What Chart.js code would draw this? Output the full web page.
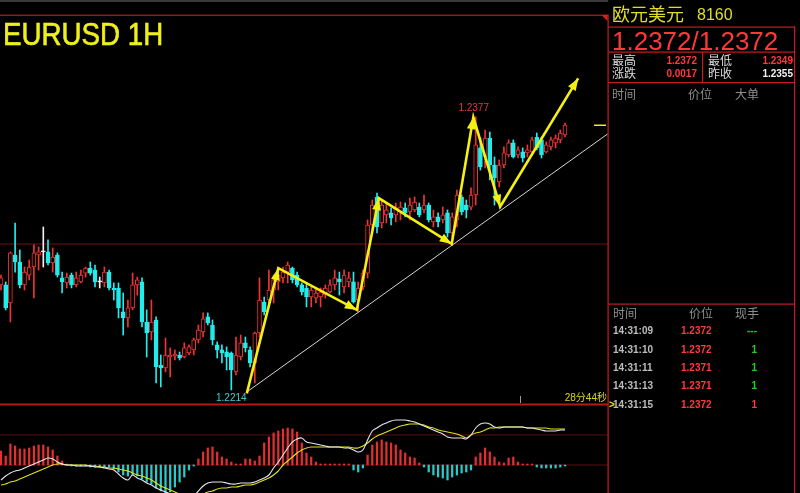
<!DOCTYPE html>
<html><head><meta charset="utf-8">
<script src="https://cdn.jsdelivr.net/npm/chart.js@4/dist/chart.umd.min.js"></script>
<style>
html,body{margin:0;padding:0;background:#000;overflow:hidden}
#wrap{position:relative;width:800px;height:493px;background:#000;overflow:hidden}
canvas{position:absolute;left:0;top:0}
.t{position:absolute;white-space:nowrap}
</style></head>
<body><div id="wrap"><canvas id="c" width="800" height="493"></canvas></div>
<script>
// ---------------- DATA ----------------
const open = [1.22767,1.22767,1.22659,1.22946,1.22904,1.22767,1.22826,1.22874,1.22946,1.22964,
1.22964,1.22898,1.22946,1.22809,1.22779,1.22826,1.22767,1.22785,1.22838,1.22868,
1.22856,1.22785,1.22779,1.22844,1.22749,1.22749,1.22606,1.22570,1.22630,1.22767,
1.22785,1.22546,1.22486,1.22558,1.22289,1.22271,1.22337,1.22343,1.22349,1.22337,
1.22361,1.22379,1.22439,1.22486,1.22576,1.22528,1.22409,1.22379,1.22367,1.22361,
1.22248,1.22337,1.22421,1.22379,1.22301,1.22480,1.22665,1.22677,1.22737,1.22785,
1.22809,1.22844,1.22868,1.22826,1.22767,1.22749,1.22695,1.22689,1.22695,1.22707,
1.22725,1.22767,1.22803,1.22755,1.22785,1.22785,1.22677,1.22755,1.22838,1.23125,
1.23292,1.23137,1.23185,1.23197,1.23185,1.23203,1.23227,1.23203,1.23215,1.23232,
1.23215,1.23244,1.23143,1.23173,1.23155,1.23197,1.23077,1.23155,1.23292,1.23244,
1.23232,1.23304,1.23585,1.23531,1.23644,1.23483,1.23382,1.23483,1.23543,1.23615,
1.23543,1.23561,1.23555,1.23561,1.23650,1.23633,1.23561,1.23591,1.23615,1.23633,
1.23662];
const high = [1.22826,1.22785,1.22964,1.23137,1.22976,1.22874,1.22916,1.23006,1.22994,1.23113,
1.23036,1.22988,1.22958,1.22844,1.22838,1.22838,1.22844,1.22856,1.22874,1.22904,
1.22886,1.22814,1.22874,1.22856,1.22779,1.22779,1.22719,1.22677,1.22838,1.22814,
1.22809,1.22618,1.22677,1.22576,1.22349,1.22450,1.22391,1.22379,1.22367,1.22421,
1.22409,1.22450,1.22528,1.22600,1.22600,1.22558,1.22427,1.22409,1.22397,1.22367,
1.22456,1.22468,1.22456,1.22397,1.22486,1.22809,1.22695,1.22856,1.22826,1.22868,
1.22874,1.22904,1.22874,1.22844,1.22779,1.22779,1.22755,1.22749,1.22749,1.22767,
1.22797,1.22856,1.22844,1.22856,1.22844,1.22844,1.22785,1.22856,1.23155,1.23274,
1.23316,1.23274,1.23256,1.23227,1.23256,1.23262,1.23256,1.23286,1.23292,1.23256,
1.23304,1.23256,1.23215,1.23197,1.23232,1.23215,1.23197,1.23334,1.23304,1.23274,
1.23346,1.23770,1.23644,1.23692,1.23680,1.23531,1.23513,1.23591,1.23633,1.23633,
1.23591,1.23585,1.23603,1.23650,1.23674,1.23650,1.23621,1.23650,1.23662,1.23692,
1.23734];
const low = [1.22737,1.22618,1.22546,1.22844,1.22749,1.22737,1.22797,1.22689,1.22856,1.22874,
1.22886,1.22844,1.22814,1.22719,1.22749,1.22749,1.22755,1.22779,1.22814,1.22826,
1.22755,1.22749,1.22755,1.22737,1.22677,1.22570,1.22468,1.22516,1.22618,1.22707,
1.22516,1.22337,1.22439,1.22182,1.22158,1.22248,1.22218,1.22319,1.22319,1.22331,
1.22349,1.22349,1.22421,1.22456,1.22528,1.22409,1.22331,1.22301,1.22259,1.22140,
1.22230,1.22319,1.22367,1.22277,1.22182,1.22456,1.22588,1.22659,1.22659,1.22737,
1.22779,1.22779,1.22779,1.22755,1.22707,1.22636,1.22636,1.22659,1.22636,1.22689,
1.22719,1.22737,1.22707,1.22719,1.22755,1.22659,1.22606,1.22737,1.22809,1.23095,
1.23077,1.23107,1.23137,1.23125,1.23143,1.23155,1.23173,1.23155,1.23203,1.23173,
1.23197,1.23143,1.23113,1.23113,1.23137,1.23053,1.23018,1.23113,1.23185,1.23167,
1.23215,1.23244,1.23453,1.23465,1.23394,1.23244,1.23352,1.23465,1.23531,1.23525,
1.23525,1.23501,1.23531,1.23543,1.23573,1.23525,1.23555,1.23573,1.23585,1.23615,
1.23650];
const close = [1.22809,1.22630,1.22958,1.22904,1.22767,1.22844,1.22874,1.22958,1.22964,1.22964,
1.22898,1.22934,1.22826,1.22785,1.22814,1.22767,1.22809,1.22826,1.22868,1.22838,
1.22785,1.22785,1.22844,1.22749,1.22737,1.22630,1.22570,1.22630,1.22767,1.22797,
1.22546,1.22480,1.22546,1.22277,1.22271,1.22349,1.22349,1.22355,1.22331,1.22391,
1.22397,1.22439,1.22498,1.22564,1.22540,1.22439,1.22379,1.22361,1.22337,1.22259,
1.22349,1.22421,1.22391,1.22301,1.22480,1.22677,1.22606,1.22737,1.22797,1.22826,
1.22844,1.22886,1.22797,1.22767,1.22725,1.22695,1.22737,1.22719,1.22725,1.22749,
1.22767,1.22809,1.22785,1.22826,1.22809,1.22665,1.22749,1.22838,1.23125,1.23244,
1.23113,1.23244,1.23215,1.23167,1.23227,1.23232,1.23197,1.23244,1.23262,1.23185,
1.23244,1.23155,1.23173,1.23143,1.23185,1.23077,1.23173,1.23304,1.23203,1.23215,
1.23304,1.23603,1.23471,1.23644,1.23483,1.23406,1.23483,1.23555,1.23615,1.23531,
1.23573,1.23525,1.23573,1.23633,1.23585,1.23543,1.23603,1.23633,1.23644,1.23674,
1.23722];

// MACD (DIF, DEA, histogram)
const dif = [-0.00015,-0.00011,-0.00008,-0.00006,-0.00005,-0.00003,-0.00001,0.00001,0.00003,0.00005,
0.00007,0.00006,0.00003,0.00001,0,0,-0.00001,-0.00001,-0.00001,-0.00001,
-0.00002,-0.00002,-0.00003,-0.00004,-0.00005,-0.00009,-0.00013,-0.00015,-0.00010,-0.00013,
-0.00015,-0.00018,-0.00020,-0.00023,-0.00025,-0.00027,-0.00029,-0.00032,-0.00034,-0.00035,
-0.00034,-0.00031,-0.00026,-0.00021,-0.00018,-0.00017,-0.00017,-0.00017,-0.00018,-0.00019,
-0.00019,-0.00018,-0.00018,-0.00018,-0.00017,-0.00015,-0.00013,-0.00010,-0.00003,0.00003,
0.00010,0.00017,0.00023,0.00026,0.00027,0.00023,0.00022,0.00021,0.00020,0.00019,
0.00018,0.00018,0.00018,0.00017,0.00017,0.00015,0.00013,0.00015,0.00025,0.00034,
0.00037,0.00040,0.00042,0.00044,0.00045,0.00045,0.00045,0.00044,0.00043,0.00041,
0.00039,0.00037,0.00035,0.00033,0.00031,0.00028,0.00027,0.00027,0.00027,0.00026,
0.00030,0.00037,0.00041,0.00042,0.00041,0.00038,0.00037,0.00038,0.00038,0.00038,
0.00038,0.00038,0.00037,0.00037,0.00036,0.00035,0.00034,0.00034,0.00034,0.00035,
0.00035];
const dea = [-0.00020,-0.00019,-0.00017,-0.00016,-0.00014,-0.00012,-0.00010,-0.00008,-0.00006,-0.00004,
-0.00002,0,0.00001,0.00001,0,0,0,0,0,-0.00001,
-0.00001,-0.00002,-0.00002,-0.00003,-0.00003,-0.00004,-0.00005,-0.00006,-0.00008,-0.00010,
-0.00011,-0.00013,-0.00015,-0.00018,-0.00021,-0.00023,-0.00025,-0.00027,-0.00029,-0.00030,
-0.00031,-0.00031,-0.00030,-0.00029,-0.00027,-0.00026,-0.00024,-0.00023,-0.00023,-0.00022,
-0.00022,-0.00021,-0.00020,-0.00020,-0.00019,-0.00017,-0.00015,-0.00013,-0.00010,-0.00006,
0,0.00004,0.00008,0.00012,0.00015,0.00017,0.00018,0.00018,0.00018,0.00018,
0.00018,0.00018,0.00018,0.00018,0.00018,0.00017,0.00017,0.00019,0.00022,0.00026,
0.00029,0.00031,0.00033,0.00035,0.00037,0.00039,0.00040,0.00041,0.00041,0.00041,
0.00040,0.00038,0.00037,0.00035,0.00034,0.00033,0.00032,0.00031,0.00029,0.00027,
0.00030,0.00032,0.00033,0.00035,0.00037,0.00037,0.00038,0.00038,0.00038,0.00038,
0.00038,0.00038,0.00037,0.00037,0.00037,0.00037,0.00037,0.00036,0.00036,0.00036,
0.00036];
const macdHist = [0.00014,0.00009,0.00021,0.00019,0.00016,0.00016,0.00017,0.00019,0.00020,0.00020,
0.00018,0.00015,0.00009,0.00004,0.00001,-0.00001,-0.00001,-0.00001,-0.00001,-0.00002,
-0.00002,-0.00002,-0.00002,-0.00002,-0.00004,-0.00007,-0.00010,-0.00011,-0.00010,-0.00011,
-0.00014,-0.00017,-0.00019,-0.00023,-0.00026,-0.00028,-0.00027,-0.00022,-0.00017,-0.00012,
-0.00005,-0.00001,0.00006,0.00013,0.00017,0.00018,0.00013,0.00008,0.00006,0.00003,
0.00001,0.00001,0.00006,0.00006,0.00004,0.00009,0.00022,0.00028,0.00032,0.00034,
0.00036,0.00037,0.00036,0.00033,0.00022,0.00012,0.00008,0.00003,0.00001,0.00001,
0.00001,0.00001,0.00001,0.00001,0.00001,-0.00005,-0.00007,-0.00003,0.00010,0.00020,
0.00023,0.00025,0.00023,0.00022,0.00020,0.00015,0.00012,0.00008,0.00007,0.00002,
-0.00002,-0.00007,-0.00010,-0.00012,-0.00013,-0.00015,-0.00012,-0.00010,-0.00008,-0.00007,
-0.00005,0.00008,0.00012,0.00017,0.00013,0.00008,0.00003,0.00002,0.00007,0.00008,
0.00003,0.00001,0.00001,0.00001,-0.00002,-0.00003,-0.00003,-0.00003,-0.00003,-0.00002,
-0.00001];

// Hand-drawn analysis: arrow path (bar index, price) and support trend line
const arrowIdx   = [52.3, 59.0, 75.7, 80.4, 95.9, 100.5, 106.2, 122.8];
const arrowPrice = [1.2212, 1.22867, 1.22618, 1.23285, 1.23012, 1.23768, 1.23234, 1.2400];
const trendIdx   = [52.3, 129.1];
const trendPrice = [1.22128, 1.23669];
const levelPrice = 1.2301;
const sessionMarkIdx = 110.4;

// Side panel quote data
const symbolName = '欧元美元';
const symbolCode = '8160';
const bidAsk = '1.2372/1.2372';
const statLabels = [['最高','最低'],['涨跌','昨收']];
const statValues = [['1.2372','1.2349'],['0.0017','1.2355']];
const tickTimes  = ['14:31:09','14:31:10','14:31:11','14:31:13','14:31:15'];
const tickPrices = ['1.2372','1.2372','1.2371','1.2371','1.2372'];
const tickVols   = ['---','1','1','1','1'];
const tickDir    = ['buy','buy','buy','buy','sell'];
const countdown  = '28分44秒';

// ---------------- STYLE ----------------
const UP = '#f03434', DOWN = '#22ecec', DOJI = '#f0f0f0';
const candleIndex = open.map((_, i) => i);
const candleColor = candleIndex.map(i => close[i] > open[i] ? UP : (close[i] < open[i] ? DOWN : DOJI));
const bodyFill = candleIndex.map(i => close[i] > open[i] ? '#000000' : candleColor[i]);

const wrap = document.getElementById('wrap');
function addText(txt, o) {
  const d = document.createElement('div');
  d.className = 't';
  d.textContent = txt;
  d.style.font = o.font;
  const h = o.h || 20;
  d.style.top = (o.cy - h / 2) + 'px';
  d.style.height = h + 'px';
  d.style.lineHeight = h + 'px';
  if (o.left != null) d.style.left = o.left + 'px';
  if (o.right != null) { d.style.right = (800 - o.right) + 'px'; d.style.textAlign = 'right'; }
  d.style.color = o.color;
  if (o.extra) Object.assign(d.style, o.extra);
  wrap.appendChild(d);
  return d;
}
const LAT = '"Liberation Sans", Arial, sans-serif';
const CJK = '"Liberation Sans", "Noto Sans CJK SC", sans-serif';

addText('EURUSD 1H', {left: 3, cy: 34.3, h: 31, font: '31px ' + LAT, color: '#eef01c',
  extra: {transform: 'scaleX(0.894)', transformOrigin: '0 0', webkitTextStroke: '0.6px #eef01c'}});
addText(symbolName, {left: 612, cy: 15, font: '18px ' + CJK, color: '#dede2a'});
addText(symbolCode, {left: 697, cy: 15, font: '16px ' + LAT, color: '#dede2a'});
addText(bidAsk, {left: 612, cy: 40.5, h: 30, font: '26px ' + LAT, color: '#ff3838'});
const statCy = [60.5, 74];
statLabels.forEach((row, r) => {
  addText(row[0], {left: 612, cy: statCy[r], font: '12px ' + CJK, color: '#dcdcdc'});
  addText(row[1], {left: 708, cy: statCy[r], font: '12px ' + CJK, color: '#dcdcdc'});
  addText(statValues[r][0], {right: 697, cy: statCy[r], font: 'bold 10px ' + LAT, color: '#ff3a3a'});
  addText(statValues[r][1], {right: 793, cy: statCy[r], font: 'bold 10px ' + LAT, color: r === 1 ? '#f2f2f2' : '#ff3a3a'});
});
[['时间',612],['价位',688],['大单',735]].forEach(([s, x]) => addText(s, {left: x, cy: 94.5, font: '12px ' + CJK, color: '#8e8e8e'}));
[['时间',613],['价位',689],['现手',735]].forEach(([s, x]) => addText(s, {left: x, cy: 314, font: '12px ' + CJK, color: '#8e8e8e'}));
const tickCy = [331, 349.5, 368, 386, 405];
tickTimes.forEach((t, k) => {
  addText(t, {left: 613, cy: tickCy[k], font: 'bold 10px ' + LAT, color: '#bdbdbd'});
  addText(tickPrices[k], {left: 681, cy: tickCy[k], font: 'bold 10px ' + LAT, color: '#ff3a3a'});
  addText(tickVols[k], {right: 757, cy: tickCy[k], font: 'bold 10px ' + LAT, color: tickDir[k] === 'buy' ? '#22d022' : '#ff3a3a'});
});
addText('>', {left: 609, cy: 405, font: 'bold 10px ' + LAT, color: '#e8e820'});
addText(countdown, {right: 607, cy: 398, font: '10px ' + CJK, color: '#d8d820'});

// ---------------- PLUGIN ----------------
const decor = {
  id: 'decor',
  beforeDatasetsDraw(chart) {
    const c = chart.ctx, x = chart.scales.x, y = chart.scales.y, y2 = chart.scales.y2;
    c.save();
    c.fillStyle = '#3a3a3a'; c.fillRect(0, 0, 608, 2);
    c.fillStyle = '#8a1c1c'; c.fillRect(0, 14.5, 608, 1.5);
    c.fillStyle = '#6e1212';
    c.fillRect(0, Math.round(y.getPixelForValue(levelPrice)) - 0.5, 608, 1);
    c.fillStyle = '#5c0e0e';
    c.fillRect(0, Math.round(y2.getPixelForValue(0.0003)) - 0.5, 608, 1);
    c.fillRect(0, Math.round(y2.getPixelForValue(0)) - 0.5, 608, 1);
    c.fillStyle = '#b81818'; c.fillRect(0, 403.5, 608, 2);
    c.fillStyle = '#9a9a9a';
    c.fillRect(Math.round(x.getPixelForValue(sessionMarkIdx)), 396, 1, 7);
    c.restore();
  },
  afterDatasetsDraw(chart) {
    const c = chart.ctx, x = chart.scales.x, y = chart.scales.y;
    c.save();
    const meta = chart.getDatasetMeta(0);
    c.fillStyle = '#f4f014';
    for (let k = 1; k < meta.data.length; k++) {
      const p0 = meta.data[k - 1], p1 = meta.data[k];
      const a = Math.atan2(p1.y - p0.y, p1.x - p0.x), L = 12, W = 4.5;
      c.beginPath();
      c.moveTo(p1.x, p1.y);
      c.lineTo(p1.x - L * Math.cos(a) + W * Math.sin(a), p1.y - L * Math.sin(a) - W * Math.cos(a));
      c.lineTo(p1.x - L * Math.cos(a) - W * Math.sin(a), p1.y - L * Math.sin(a) + W * Math.cos(a));
      c.closePath(); c.fill();
    }
    let hi = 0, lo = 0;
    high.forEach((v, i) => { if (v > high[hi]) hi = i; });
    low.forEach((v, i) => { if (v < low[lo]) lo = i; });
    c.font = '10px "Liberation Sans"';
    c.textAlign = 'center'; c.textBaseline = 'middle';
    c.fillStyle = '#e23a3a';
    c.fillText(high[hi].toFixed(4), x.getPixelForValue(hi) - 2, y.getPixelForValue(high[hi]) - 9);
    c.fillStyle = '#40d0d0';
    c.fillText(low[lo].toFixed(4), x.getPixelForValue(lo), y.getPixelForValue(low[lo]) + 8);
    const last = close[close.length - 1];
    c.fillStyle = '#e8e820';
    c.fillRect(594, Math.round(y.getPixelForValue(last)) - 0.5, 12, 1.5);
    c.restore();
  },
  afterDraw(chart) {
    const c = chart.ctx;
    c.save();
    c.fillStyle = '#c41c22';
    c.fillRect(607.5, 14.5, 1.2, 480);
    c.fillRect(608, 26.5, 187, 1.2);
    c.fillRect(608, 51.5, 187, 1.2);
    c.fillRect(608, 82, 187, 1.2);
    c.fillRect(702, 52, 1.2, 30);
    c.fillRect(794, 26.5, 1.2, 470);
    c.fillRect(608, 303.5, 187, 1.2);
    c.beginPath();
    c.moveTo(601.5, 15); c.lineTo(607.5, 15); c.lineTo(607.5, 21); c.closePath();
    c.fillStyle = '#e02020'; c.fill();
    c.restore();
  }
};

// ---------------- CHART ----------------
new Chart(document.getElementById('c'), {
  type: 'bar',
  data: {
    datasets: [
      { type: 'line', label: 'arrows', yAxisID: 'y', order: 0,
        data: arrowIdx.map((v, k) => ({x: v, y: arrowPrice[k]})),
        borderColor: '#f4f014', borderWidth: 2.6, pointRadius: 0, tension: 0 },
      { type: 'line', label: 'trend', yAxisID: 'y', order: 1,
        data: trendIdx.map((v, k) => ({x: v, y: trendPrice[k]})),
        borderColor: '#d4d4d4', borderWidth: 1, pointRadius: 0, tension: 0 },
      { type: 'bar', label: 'body', yAxisID: 'y', order: 2, grouped: false,
        data: candleIndex.map(i => ({x: i, y: [open[i], close[i]]})),
        backgroundColor: bodyFill, borderColor: candleColor, borderWidth: 1,
        borderSkipped: false, barThickness: 4, minBarLength: 1 },
      { type: 'bar', label: 'wick', yAxisID: 'y', order: 3, grouped: false,
        data: candleIndex.map(i => ({x: i, y: [low[i], high[i]]})),
        backgroundColor: candleColor, borderWidth: 0, barThickness: 1 },
      { type: 'line', label: 'DIF', yAxisID: 'y2', order: 4,
        data: candleIndex.map(i => ({x: i, y: dif[i]})),
        borderColor: '#e6e6f0', borderWidth: 1.1, pointRadius: 0, tension: 0.3 },
      { type: 'line', label: 'DEA', yAxisID: 'y2', order: 5,
        data: candleIndex.map(i => ({x: i, y: dea[i]})),
        borderColor: '#e2e21c', borderWidth: 1.1, pointRadius: 0, tension: 0.3 },
      { type: 'bar', label: 'MACD', yAxisID: 'y2', order: 6, grouped: false,
        data: candleIndex.map(i => ({x: i, y: macdHist[i]})),
        backgroundColor: macdHist.map(v => v >= 0 ? '#e03030' : '#28caca'),
        borderWidth: 0, barThickness: 1.6 }
    ]
  },
  options: {
    responsive: false, animation: false, devicePixelRatio: 1, events: [],
    layout: { padding: { left: 0, right: 192, top: 0, bottom: 0 } },
    plugins: { legend: { display: false }, tooltip: { enabled: false }, title: { display: false } },
    scales: {
      x: { type: 'linear', min: -0.2128, max: 129.15, offset: false, display: false },
      y: { type: 'linear', min: 1.21525, max: 1.24468, display: false },
      y2: { type: 'linear', min: -0.00028, max: 0.00465, display: false }
    }
  },
  plugins: [decor]
});
</script>
</body></html>
